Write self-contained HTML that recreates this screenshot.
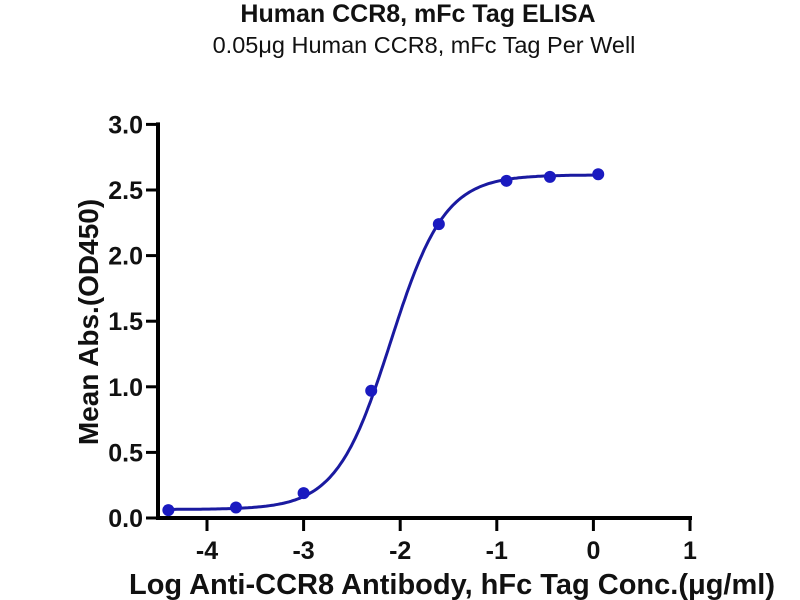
<!DOCTYPE html>
<html><head><meta charset="utf-8"><style>
body{margin:0;background:#fff;}
svg{display:block;font-family:"Liberation Sans",Arial,sans-serif;}
</style></head><body>
<svg width="800" height="600">
<g id="g"></g>
</svg>
<script>
const xVals=[-4.4,-3.7,-3.0,-2.3,-1.6,-0.9,-0.45,0.05];
const yVals=[0.06,0.08,0.19,0.97,2.24,2.57,2.60,2.62];
const fitBottom=[0.065];
const fitTop=[2.615];
const fitLogEC50=[-2.1];
const fitHill=[1.55];
const xTicks=[-4,-3,-2,-1,0,1];
const yTicks=[0,0.5,1.0,1.5,2.0,2.5,3.0];
const yTickLabels=["0.0","0.5","1.0","1.5","2.0","2.5","3.0"];

const NS="http://www.w3.org/2000/svg";
const g=document.getElementById('g');
const X=v=>207+(v+4)*96.6;
const Y=v=>518-v*131.2;
function mk(t,a,txt){const e=document.createElementNS(NS,t);for(const k in a)e.setAttribute(k,a[k]);if(txt!==undefined)e.textContent=txt;g.appendChild(e);return e;}

let e;
e=mk('text',{x:418,y:22,'text-anchor':'middle','font-size':25,'font-weight':'bold',fill:'#111'},'Human CCR8, mFc Tag ELISA');


e=mk('text',{x:424,y:53,'text-anchor':'middle','font-size':23.5,fill:'#111'},'0.05μg Human CCR8, mFc Tag Per Well');



e=mk('line',{x1:158,y1:Y(3)-2,x2:158,y2:520,stroke:'#000','stroke-width':4});


e=mk('line',{x1:156,y1:518,x2:692,y2:518,stroke:'#000','stroke-width':4});



yTicks.forEach((v,i)=>{
 let t=mk('line',{x1:146,y1:Y(v),x2:158,y2:Y(v),stroke:'#000','stroke-width':3});
 
 
 let l=mk('text',{x:143,y:Y(v)+9,'text-anchor':'end','font-size':25,'font-weight':'bold',fill:'#111'},yTickLabels[i]);
 
 
});
xTicks.forEach(v=>{
 let t=mk('line',{x1:X(v),y1:518,x2:X(v),y2:531,stroke:'#000','stroke-width':3});
 
 
 let l=mk('text',{x:X(v),y:559,'text-anchor':'middle','font-size':25,'font-weight':'bold',fill:'#111'},String(v));
 
 
});

e=mk('text',{x:0,y:0,transform:'translate(98,322) rotate(-90)','text-anchor':'middle','font-size':28,'font-weight':'bold',fill:'#111'},'Mean Abs.(OD450)');


e=mk('text',{x:452,y:594,'text-anchor':'middle','font-size':29,'font-weight':'bold',fill:'#111'},'Log Anti-CCR8 Antibody, hFc Tag Conc.(μg/ml)');



const f=x=>fitBottom[0]+(fitTop[0]-fitBottom[0])/(1+Math.pow(10,(fitLogEC50[0]-x)*fitHill[0]));
let d='';
const x0=xVals[0],x1=xVals[xVals.length-1];
for(let i=0;i<=200;i++){const x=x0+(x1-x0)*i/200;d+=(i?'L':'M')+X(x).toFixed(1)+','+Y(f(x)).toFixed(1);}
e=mk('path',{d:d,fill:'none',stroke:'#1a1aa0','stroke-width':3});



xVals.forEach((x,i)=>{
 let c=mk('circle',{cx:X(x),cy:Y(yVals[i]),r:6,fill:'#1a1ac0'});
 
 
});
</script>
</body></html>
